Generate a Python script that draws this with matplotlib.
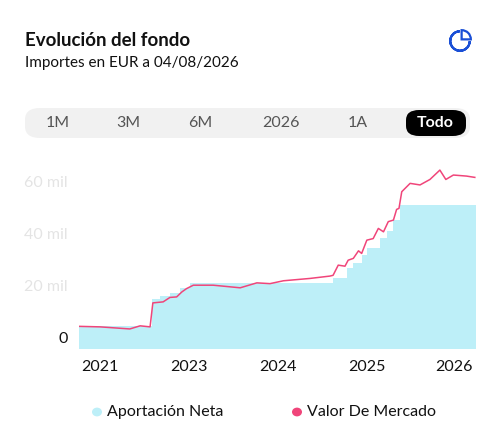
import matplotlib
matplotlib.use("Agg")
import matplotlib.pyplot as plt
from matplotlib.patches import FancyBboxPatch, Circle, Wedge

plt.rcParams['font.family'] = ['Lato', 'DejaVu Sans']

# data (x on a 0..100 timeline scale)
fill_t = [0, 18.4, 20.5, 23, 25.5, 28, 64, 67.4, 69, 71.2, 72.5, 75.8, 77.5, 79.1, 80.9, 100]
fill_v = [4200, 14600, 15800, 16900, 18800, 20800, 22700, 26500, 28500, 31500, 34200, 38000, 41000, 45000, 50800, 50800]
line_t = [0, 5.3, 12.8, 15.4, 17.9, 18.6, 21.2, 22.9, 24.6, 25.9, 27.1, 28.8, 33.8, 40.6, 44.8, 48.1, 51.5, 58.2, 63.2, 64,
          65.3, 67, 67.8, 69.1, 70.4, 71.2, 72.5, 74.1, 75.4, 76.7, 77.9, 79.2, 80, 80.6, 81.3, 83.4, 85.9, 88.4, 90.9, 92.4, 94.3, 97.6, 99.7]
line_v = [4200, 4000, 3200, 4400, 4000, 13200, 13600, 15300, 15500, 17400, 18700, 20000, 20000, 19000, 20900, 20600, 21700, 22600, 23500, 23800,
          27700, 27300, 29600, 30300, 33200, 32200, 37300, 37900, 41800, 40500, 44400, 45000, 49100, 49500, 55900, 59100, 58500, 60600, 64200, 60600, 62300, 61900, 61400]
x_ticks = [5.3, 27.7, 50.1, 72.5, 94.5]
x_labels = ["2021", "2023", "2024", "2025", "2026"]
y_ticks = [0, 20000, 40000, 60000]
y_labels = ["0", "20 mil", "40 mil", "60 mil"]
ranges = ["1M", "3M", "6M", "2026", "1A", "Todo"]
range_x = [58, 128, 200, 281, 358, 435]

W, H = 504, 443
fig = plt.figure(figsize=(W/100, H/100), dpi=100)
ax = fig.add_axes([79/W, 1-349/H, 397/W, (349-162.8)/H])
ymin = -4500
ax.fill_between(fill_t, fill_v, ymin, step='post', color='#bdeff8', lw=0)
ax.plot(line_t, line_v, color='#f0457a', lw=1.1)
ax.set_xlim(0, 100)
ax.set_ylim(ymin, 67000)
for s in ax.spines.values():
    s.set_visible(False)
ax.set_xticks(x_ticks)
ax.set_xticklabels(x_labels, fontsize=11.5, color='#111111')
ax.set_yticks(y_ticks)
ax.set_yticklabels(y_labels, fontsize=11.5)
for i, lab in enumerate(ax.get_yticklabels()):
    lab.set_color('#111111' if i == 0 else '#e4e4e4')
ax.tick_params(length=0, pad=8)

def fy(y):
    return 1 - y/H

fig.text(25/W, fy(40), "Evolución del fondo", fontsize=13.5, fontweight='bold', va='center', color='#111111')
fig.text(25/W, fy(63), "Importes en EUR a 04/08/2026", fontsize=11, va='center', color='#111111')

# button bar
bar = FancyBboxPatch((25/W, fy(138)), 445/W, 30/H, boxstyle="round,pad=0,rounding_size=0.03",
                     transform=fig.transFigure, fc='#f1f1f1', ec='none', mutation_aspect=H/W)
fig.add_artist(bar)
pill = FancyBboxPatch((406/W, fy(136)), 60/W, 26/H, boxstyle="round,pad=0,rounding_size=0.026",
                      transform=fig.transFigure, fc='black', ec='none', mutation_aspect=H/W)
fig.add_artist(pill)
for lab, x in zip(ranges, range_x):
    fig.text(x/W, fy(123), lab, fontsize=11.5, ha='center', va='center',
             color='white' if lab == 'Todo' else '#555555', fontweight='bold' if lab == 'Todo' else 'normal')

# icon
iax = fig.add_axes([447/W, fy(54), 26/W, 26/H])
iax.set_xlim(-1.2, 1.2); iax.set_ylim(-1.2, 1.2); iax.set_aspect('equal'); iax.axis('off')
iax.add_patch(Wedge((0, 0), 0.9, 90, 360, width=0, fill=False, ec='#1a4fd6', lw=1.6))
iax.add_patch(Wedge((0.15, 0.15), 0.85, 0, 90, fill=False, ec='#1a4fd6', lw=1.6))

# legend
fig.add_artist(Circle((97/W, fy(412)), 5/W, transform=fig.transFigure, fc='#bdeff8', ec='none'))
fig.text(107/W, fy(412), "Aportación Neta", fontsize=11.5, va='center', color='#111111')
fig.add_artist(Circle((297/W, fy(412)), 5/W, transform=fig.transFigure, fc='#f0457a', ec='none'))
fig.text(307/W, fy(412), "Valor De Mercado", fontsize=11.5, va='center', color='#111111')

fig.savefig("out.png", dpi=100)
